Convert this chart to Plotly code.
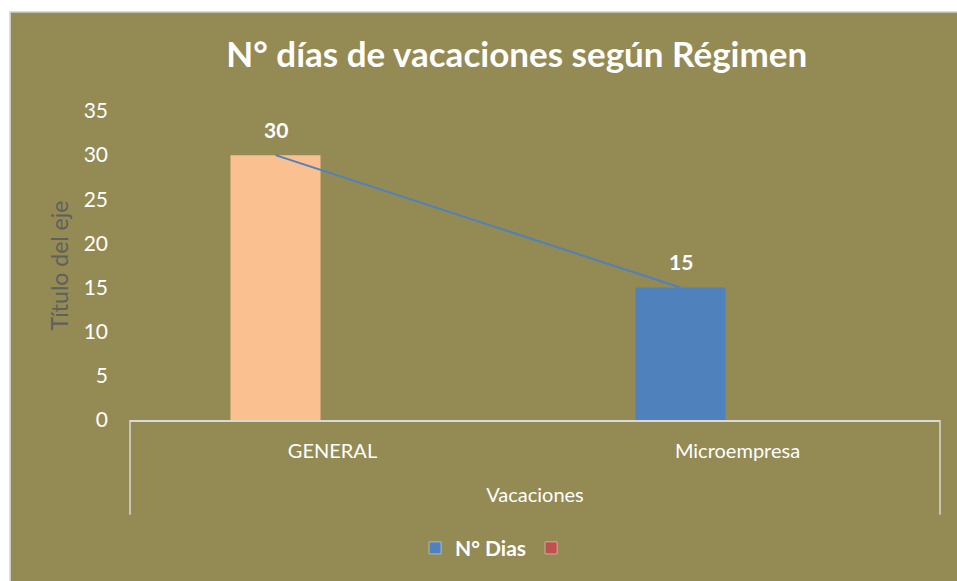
import plotly.graph_objects as go

# ---- data ----
categories = ["GENERAL", "Microempresa"]
dias = [30, 15]
empty_series = [None, None]
bar_colors = ["#FAC090", "#4F81BD"]
series_name = "N° Dias"
title_text = "N° días de vacaciones según Régimen"
x_title = "Vacaciones"
y_title = "Título del eje"
y_ticks = [0, 5, 10, 15, 20, 25, 30, 35]

BG = "#948A54"
FONT = "Lato"

fig = go.Figure()

fig.add_trace(go.Bar(
    x=categories, y=dias, name=series_name, offsetgroup="1",
    marker=dict(color=bar_colors, line=dict(width=0)),
    showlegend=False,
))
# legend entry for the series (same slot, no data)
fig.add_trace(go.Bar(x=categories, y=empty_series, name=f"<b>{series_name}</b>",
                     offsetgroup="1", marker=dict(color="#4F81BD"),
                     showlegend=True, legendrank=1))
# second (empty) series, red
fig.add_trace(go.Bar(x=categories, y=empty_series, name=" ", offsetgroup="2",
                     marker=dict(color="#C0504D"), showlegend=True, legendrank=2))

# connecting line, placed at the bar slot
fig.add_trace(go.Scatter(
    x=categories, y=dias, mode="lines", offsetgroup="1",
    line=dict(color="#4F81BD", width=2),
    showlegend=False, hoverinfo="skip",
))
fig.add_trace(go.Scatter(
    x=categories, y=empty_series, mode="lines", offsetgroup="2",
    showlegend=False, hoverinfo="skip",
))

# data labels
for c, v in zip(categories, dias):
    fig.add_annotation(x=c, y=v, text=f"<b>{v}</b>", showarrow=False,
                       xshift=-57, yshift=26,
                       font=dict(family=FONT, size=21, color="white"))

shapes = [
    dict(type="rect", xref="paper", yref="paper", x0=-0.148, x1=1.05, y0=-0.6, y1=1.32,
         fillcolor=BG, line=dict(color="#D0D0D0", width=1.5), layer="below"),
    dict(type="line", xref="paper", yref="paper", x0=0, x1=0, y0=0, y1=-0.307,
         line=dict(color="#D9D9D9", width=1.5)),
    dict(type="line", xref="paper", yref="paper", x0=1, x1=1, y0=0, y1=-0.307,
         line=dict(color="#D9D9D9", width=1.5)),
]

fig.update_layout(
    width=957, height=581,
    margin=dict(l=130, r=17, t=111, b=161),
    paper_bgcolor="white", plot_bgcolor=BG,
    font=dict(family=FONT, color="white"),
    title=dict(text=f"<b>{title_text}</b>", x=0.54, xanchor="center",
               y=0.905, yanchor="middle",
               font=dict(family=FONT, size=35, color="white")),
    barmode="group", bargap=0.437, bargroupgap=0.21,
    scattermode="group", scattergap=0.437,
    shapes=shapes,
    legend=dict(orientation="h", x=0.455, xanchor="center", y=-0.415, yanchor="middle",
                font=dict(family=FONT, size=21, color="white"),
                bgcolor="rgba(0,0,0,0)", itemwidth=30),
    xaxis=dict(showgrid=False, showline=True, linecolor="#D9D9D9", linewidth=1.5,
               ticks="", tickfont=dict(family=FONT, size=20, color="white"),
               ticklabelstandoff=12,
               title=dict(text=x_title, standoff=27,
                          font=dict(family=FONT, size=20, color="white"))),
    yaxis=dict(range=[0, 35], tickvals=y_ticks, showgrid=False, zeroline=False,
               showline=False, ticks="",
               tickfont=dict(family=FONT, size=21, color="white"),
               ticklabelstandoff=21,
               title=dict(text=y_title, standoff=8,
                          font=dict(family=FONT, size=23, color="#5F5F5F"))),
)

fig.write_html("out.html", config={"displayModeBar": False},
               post_script="document.body.style.margin='0px';")
